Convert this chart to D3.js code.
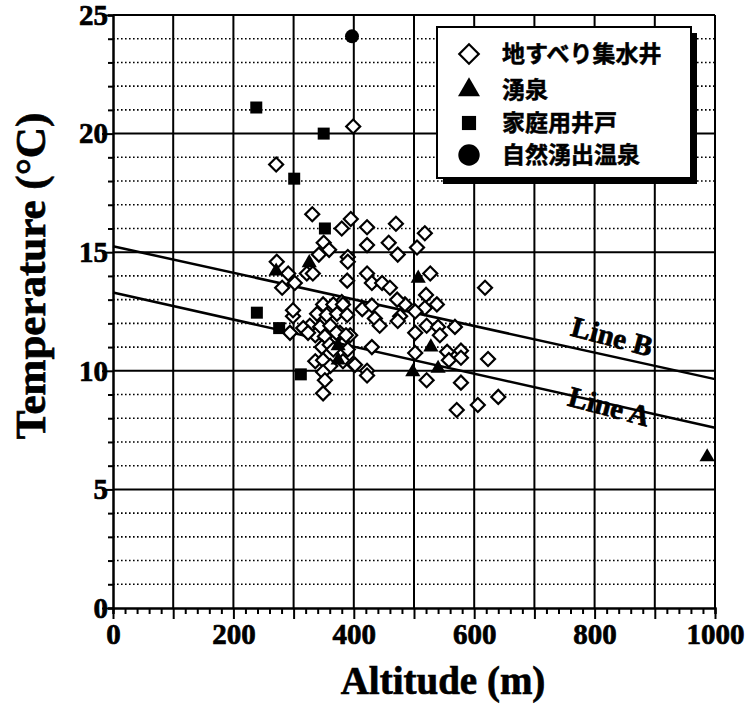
<!DOCTYPE html>
<html>
<head>
<meta charset="utf-8">
<script src="https://cdn.jsdelivr.net/npm/d3@7"></script>
<style>
  body { margin: 0; background: #fff; }
  svg text { font-family: "Liberation Serif", "Times New Roman", serif; font-weight: bold; stroke: #000; stroke-width: 0.7px; }
</style>
</head>
<body>
<div id="chart"></div>
<script>
// landslide drainage wells (diamonds)
var wellAlt = [399, 271, 331, 395, 380, 422, 470, 518, 350, 359, 422, 458, 473, 505, 342, 390, 390, 272, 291, 322,
  332, 422, 430, 447, 389, 527, 281, 302, 618, 520, 538, 485, 518, 502, 477, 502, 521, 540, 543, 568,
  502, 555, 578, 558, 578, 623, 521, 578, 640, 606, 571, 472, 460, 299, 299, 380, 349, 366, 382, 339,
  355, 372, 389, 327, 344, 361, 377, 394, 336, 352, 371, 387, 316, 435, 443, 473, 430, 414, 430, 347,
  360, 390, 336, 349, 361, 382, 399, 349, 352, 349, 402, 422, 422, 294, 324, 366];
var wellTemp = [20.3, 18.7, 16.6, 16.4, 16.0, 16.05, 16.2, 15.8, 15.4, 15.1, 15.3, 15.4, 14.9, 15.2, 14.9, 14.8, 14.6, 14.6, 14.1, 14.1,
  14.1, 14.1, 13.7, 13.7, 13.8, 14.1, 13.5, 13.7, 13.5, 13.2, 12.8, 12.8, 12.65, 12.5, 12.3, 11.6, 11.9, 11.85, 11.5, 11.85,
  10.75, 10.8, 10.85, 10.45, 10.55, 10.5, 9.6, 9.5, 8.9, 8.56, 8.35, 13.0, 13.5, 12.3, 12.55, 12.9, 12.8, 12.8, 12.8, 12.4,
  12.35, 12.4, 12.35, 11.9, 11.85, 11.9, 11.6, 11.5, 11.5, 11.45, 11.6, 11.5, 11.8, 12.2, 11.9, 12.1, 11.0, 12.6, 12.75, 11.0,
  11.1, 10.9, 10.4, 10.45, 10.2, 10.4, 10.3, 9.95, 9.6, 9.05, 10.25, 10.0, 9.8, 11.6, 11.6, 10.9];

// springs (triangles)
var springAlt = [271, 326, 507, 374, 374, 498, 528, 540, 987];
var springTemp = [14.2, 14.55, 13.9, 11.05, 10.45, 9.95, 11.0, 10.1, 6.37];

// household wells (squares)
var houseAlt = [238, 350, 301, 352, 239, 276, 312];
var houseTemp = [21.1, 20.0, 18.1, 16.0, 12.45, 11.8, 9.85];

// natural hot spring (circle)
var hotAlt = [397];
var hotTemp = [24.1];

// regression lines: [intercept, slope]
var lineNames = ["Line A", "Line B"];
var lineIntercepts = [13.3, 15.25];
var lineSlopes = [-0.0057, -0.0056];

var legendLabels = ["地すべり集水井", "湧泉", "家庭用井戸", "自然湧出温泉"];
var xTicks = [0, 200, 400, 600, 800, 1000];
var yTicks = [0, 5, 10, 15, 20, 25];

var width = 754, height = 708;
var margin = {top: 15, right: 39, bottom: 100, left: 113};

var svg = d3.select("#chart").append("svg")
  .attr("width", width)
  .attr("height", height);

var x = d3.scaleLinear().domain([0, 1000]).range([margin.left, width - margin.right]);
var y = d3.scaleLinear().domain([0, 25]).range([height - margin.bottom, margin.top]);

var grid = svg.append("g");

// dotted horizontal grid every 1 degree
grid.selectAll(".hdot")
  .data(d3.range(1, 25).filter(function(d) { return d % 5 !== 0; }))
  .enter().append("line")
  .attr("x1", x(0)).attr("x2", x(1000))
  .attr("y1", function(d) { return y(d); }).attr("y2", function(d) { return y(d); })
  .attr("stroke", "#000").attr("stroke-width", 1.6).attr("stroke-dasharray", "1.6,2.4");

// solid horizontal every 5
grid.selectAll(".hsolid")
  .data([5, 10, 15, 20, 25])
  .enter().append("line")
  .attr("x1", x(0)).attr("x2", x(1000))
  .attr("y1", function(d) { return y(d); }).attr("y2", function(d) { return y(d); })
  .attr("stroke", "#000").attr("stroke-width", 2);

// solid vertical every 100
grid.selectAll(".vsolid")
  .data(d3.range(100, 1001, 100))
  .enter().append("line")
  .attr("x1", function(d) { return x(d); }).attr("x2", function(d) { return x(d); })
  .attr("y1", y(0)).attr("y2", y(25))
  .attr("stroke", "#000").attr("stroke-width", 2);

// axes
var xAxis = d3.axisBottom(x).tickValues(d3.range(0, 1001, 20)).tickSize(6).tickFormat("");
var gx = svg.append("g").attr("transform", "translate(0," + y(0) + ")").call(xAxis);
gx.selectAll(".tick line").attr("stroke-width", 2)
  .filter(function(d) { return d % 100 === 0; }).attr("y2", 11);
gx.select(".domain").attr("stroke-width", 2.5);

var gxl = svg.append("g").attr("transform", "translate(0," + y(0) + ")")
  .call(d3.axisBottom(x).tickValues(xTicks).tickSize(0).tickPadding(15).tickFormat(d3.format("d")))
  .attr("font-family", "'Liberation Serif', serif").attr("font-weight", "bold").attr("font-size", 29);
gxl.select(".domain").remove();
gxl.selectAll("text").attr("fill", "#000");

var yAxis = d3.axisLeft(y).tickValues(d3.range(0, 26, 1)).tickSize(5).tickFormat("");
var gy = svg.append("g").attr("transform", "translate(" + x(0) + ",0)").call(yAxis);
gy.selectAll(".tick line").attr("stroke-width", 2)
  .filter(function(d) { return d % 5 === 0; }).attr("x2", -11);
gy.select(".domain").attr("stroke-width", 2.5);

var gyl = svg.append("g").attr("transform", "translate(" + x(0) + ",0)")
  .call(d3.axisLeft(y).tickValues(yTicks).tickSize(0).tickPadding(5))
  .attr("font-family", "'Liberation Serif', serif").attr("font-weight", "bold").attr("font-size", 29);
gyl.select(".domain").remove();
gyl.selectAll("text").attr("fill", "#000");

// axis titles
svg.append("text")
  .attr("x", 443).attr("y", 694)
  .attr("text-anchor", "middle").attr("font-size", 39)
  .text("Altitude (m)");

svg.append("text")
  .attr("transform", "translate(45,276) rotate(-90)")
  .attr("text-anchor", "middle").attr("font-size", 43)
  .text("Temperature (°C)");

// regression lines
var lines = svg.append("g");
lineNames.forEach(function(name, i) {
  lines.append("line")
    .attr("x1", x(0)).attr("y1", y(lineIntercepts[i]))
    .attr("x2", x(1000)).attr("y2", y(lineIntercepts[i] + lineSlopes[i] * 1000))
    .attr("stroke", "#000").attr("stroke-width", 2.5);
});

// line labels
var labelPos = [[820, 8.1], [825, 11.05]];
lineNames.forEach(function(name, i) {
  svg.append("text")
    .attr("transform", "translate(" + x(labelPos[i][0]) + "," + y(labelPos[i][1]) + ") rotate(15)")
    .attr("text-anchor", "middle").attr("font-size", 29)
    .text(name);
});

function pts(a, t) {
  return a.map(function(d, i) { return {x: d, y: t[i]}; });
}

var marks = svg.append("g");

marks.selectAll(".well")
  .data(pts(wellAlt, wellTemp))
  .enter().append("path")
  .attr("d", d3.symbol().type(d3.symbolSquare).size(98))
  .attr("transform", function(d) { return "translate(" + x(d.x) + "," + y(d.y) + ") rotate(45)"; })
  .attr("fill", "#fff").attr("stroke", "#000").attr("stroke-width", 2.2);

marks.selectAll(".spring")
  .data(pts(springAlt, springTemp))
  .enter().append("path")
  .attr("d", d3.symbol().type(d3.symbolTriangle).size(100))
  .attr("transform", function(d) { return "translate(" + x(d.x) + "," + y(d.y) + ")"; })
  .attr("fill", "#000");

marks.selectAll(".house")
  .data(pts(houseAlt, houseTemp))
  .enter().append("path")
  .attr("d", d3.symbol().type(d3.symbolSquare).size(144))
  .attr("transform", function(d) { return "translate(" + x(d.x) + "," + y(d.y) + ")"; })
  .attr("fill", "#000");

marks.selectAll(".hot")
  .data(pts(hotAlt, hotTemp))
  .enter().append("circle")
  .attr("cx", function(d) { return x(d.x); })
  .attr("cy", function(d) { return y(d.y); })
  .attr("r", 7).attr("fill", "#000");

// legend with drop shadow
var lg = svg.append("g").attr("transform", "translate(437,27)");
lg.append("rect").attr("x", 6).attr("y", 6).attr("width", 254).attr("height", 151).attr("fill", "#000");
lg.append("rect").attr("width", 254).attr("height", 151).attr("fill", "#fff").attr("stroke", "#000").attr("stroke-width", 2);

var legendY = [27, 63, 96, 128];
var legendSym = [
  {type: d3.symbolSquare, size: 190, rot: 45, fill: "#fff"},
  {type: d3.symbolTriangle, size: 210, rot: 0, fill: "#000"},
  {type: d3.symbolSquare, size: 200, rot: 0, fill: "#000"},
  {type: d3.symbolCircle, size: 360, rot: 0, fill: "#000"}
];
legendLabels.forEach(function(lab, i) {
  var s = legendSym[i];
  lg.append("path")
    .attr("d", d3.symbol().type(s.type).size(s.size))
    .attr("transform", "translate(32," + legendY[i] + ") rotate(" + s.rot + ")")
    .attr("fill", s.fill).attr("stroke", "#000").attr("stroke-width", s.fill === "#fff" ? 2.2 : 0);
  lg.append("text")
    .attr("x", 65).attr("y", legendY[i]).attr("dy", "0.36em")
    .attr("font-size", 23)
    .style("font-family", "'Noto Sans CJK JP', sans-serif").style("font-weight", "bold")
    .style("stroke-width", "0.5px")
    .text(lab);
});
</script>
</body>
</html>
